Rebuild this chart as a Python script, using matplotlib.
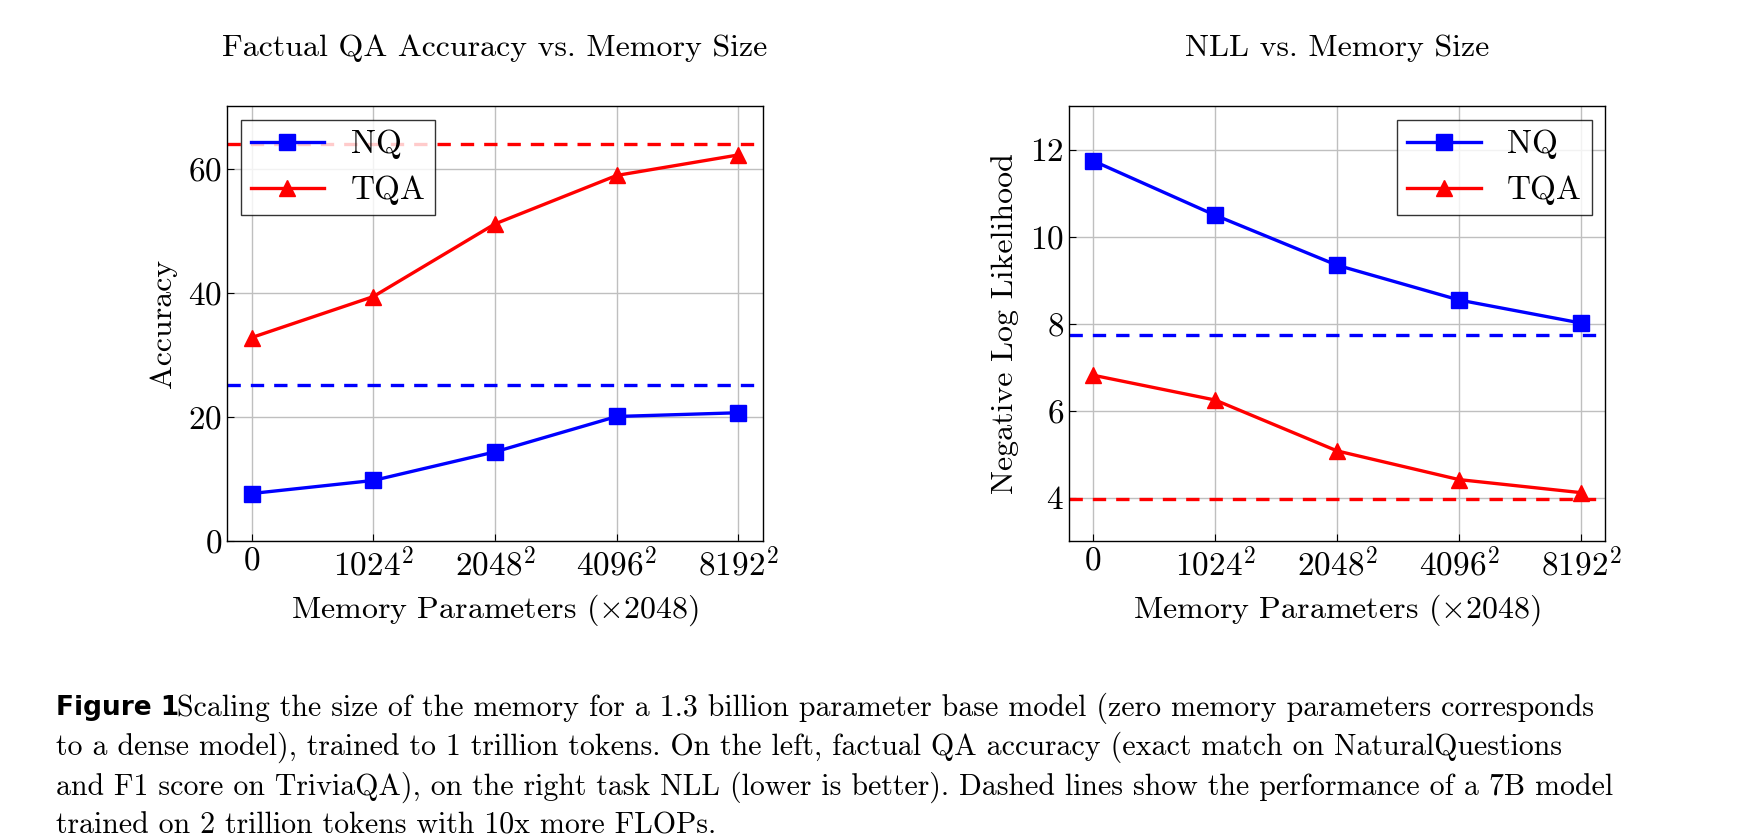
import matplotlib
matplotlib.use("Agg")
import matplotlib.pyplot as plt

plt.rcParams['font.family'] = 'serif'
plt.rcParams['font.serif'] = ['cmr10', 'DejaVu Serif']
plt.rcParams['mathtext.fontset'] = 'cm'
plt.rcParams['axes.formatter.use_mathtext'] = True

xlabels = ['$0$', '$1024^2$', '$2048^2$', '$4096^2$', '$8192^2$']
acc_nq = [7.7, 9.8, 14.4, 20.1, 20.7]
acc_tqa = [32.8, 39.4, 51.1, 58.9, 62.2]
acc_nq_7b = 25.1
acc_tqa_7b = 64.0
nll_nq = [11.75, 10.5, 9.35, 8.55, 8.02]
nll_tqa = [6.82, 6.25, 5.08, 4.42, 4.12]
nll_nq_7b = 7.75
nll_tqa_7b = 3.97

fig = plt.figure(figsize=(17.55, 8.35), dpi=100)
W, H = 1560, 745
def ax_at(x0, y0, x1, y1):
    return fig.add_axes([x0 / W, 1 - y1 / H, (x1 - x0) / W, (y1 - y0) / H])

axL = ax_at(202, 95, 678, 483)
axR = ax_at(950, 95, 1427, 483)
x = range(len(xlabels))
FS = 24

def style(ax, title, ylabel, loc):
    ax.set_xlim(-0.2, 4.2)
    ax.set_xticks(list(x))
    ax.set_xticklabels(xlabels)
    ax.grid(True, color='#bfbfbf', lw=1)
    ax.set_axisbelow(True)
    ax.tick_params(labelsize=FS, direction='in', length=5)
    ax.set_title(title, fontsize=FS - 1, pad=36)
    ax.set_xlabel(r'Memory Parameters ($\times$2048)', fontsize=FS - 1, labelpad=8)
    ax.set_ylabel(ylabel, fontsize=FS - 1, labelpad=8)
    for s in ax.spines.values():
        s.set_linewidth(1)
    leg = ax.legend(loc=loc, fontsize=FS, fancybox=False, edgecolor='black',
                    handlelength=2.2, borderaxespad=0.4, borderpad=0.3)
    leg.get_frame().set_linewidth(1)

for ax, nq, tqa, nq7, tqa7 in [(axL, acc_nq, acc_tqa, acc_nq_7b, acc_tqa_7b),
                               (axR, nll_nq, nll_tqa, nll_nq_7b, nll_tqa_7b)]:
    ax.plot(x, nq, color='blue', marker='s', ms=12, lw=2.4, label='NQ')
    ax.plot(x, tqa, color='red', marker='^', ms=12, lw=2.4, label='TQA')
    ax.axhline(nq7, color='blue', ls='--', lw=2.4, dashes=(4, 3))
    ax.axhline(tqa7, color='red', ls='--', lw=2.4, dashes=(4, 3))

axL.set_ylim(0, 70)
axL.set_yticks([0, 20, 40, 60])
axR.set_ylim(3, 13)
axR.set_yticks([4, 6, 8, 10, 12])
style(axL, 'Factual QA Accuracy vs. Memory Size', 'Accuracy', 'upper left')
style(axR, 'NLL vs. Memory Size', 'Negative Log Likelihood', 'upper right')

cap = ["Scaling the size of the memory for a 1.3 billion parameter base model (zero memory parameters corresponds",
       "to a dense model), trained to 1 trillion tokens. On the left, factual QA accuracy (exact match on NaturalQuestions",
       "and F1 score on TriviaQA), on the right task NLL (lower is better). Dashed lines show the performance of a 7B model",
       "trained on 2 trillion tokens with 10x more FLOPs."]
fig.text(50 / W, 1 - 632 / H, 'Figure 1', fontsize=19, fontweight='bold',
         family='DejaVu Sans', va='center')
for i, line in enumerate(cap):
    xx = 157 if i == 0 else 50
    fig.text(xx / W, 1 - (632 + i * 35) / H, line, fontsize=21.5, va='center')

fig.savefig('out.png', dpi=100)
